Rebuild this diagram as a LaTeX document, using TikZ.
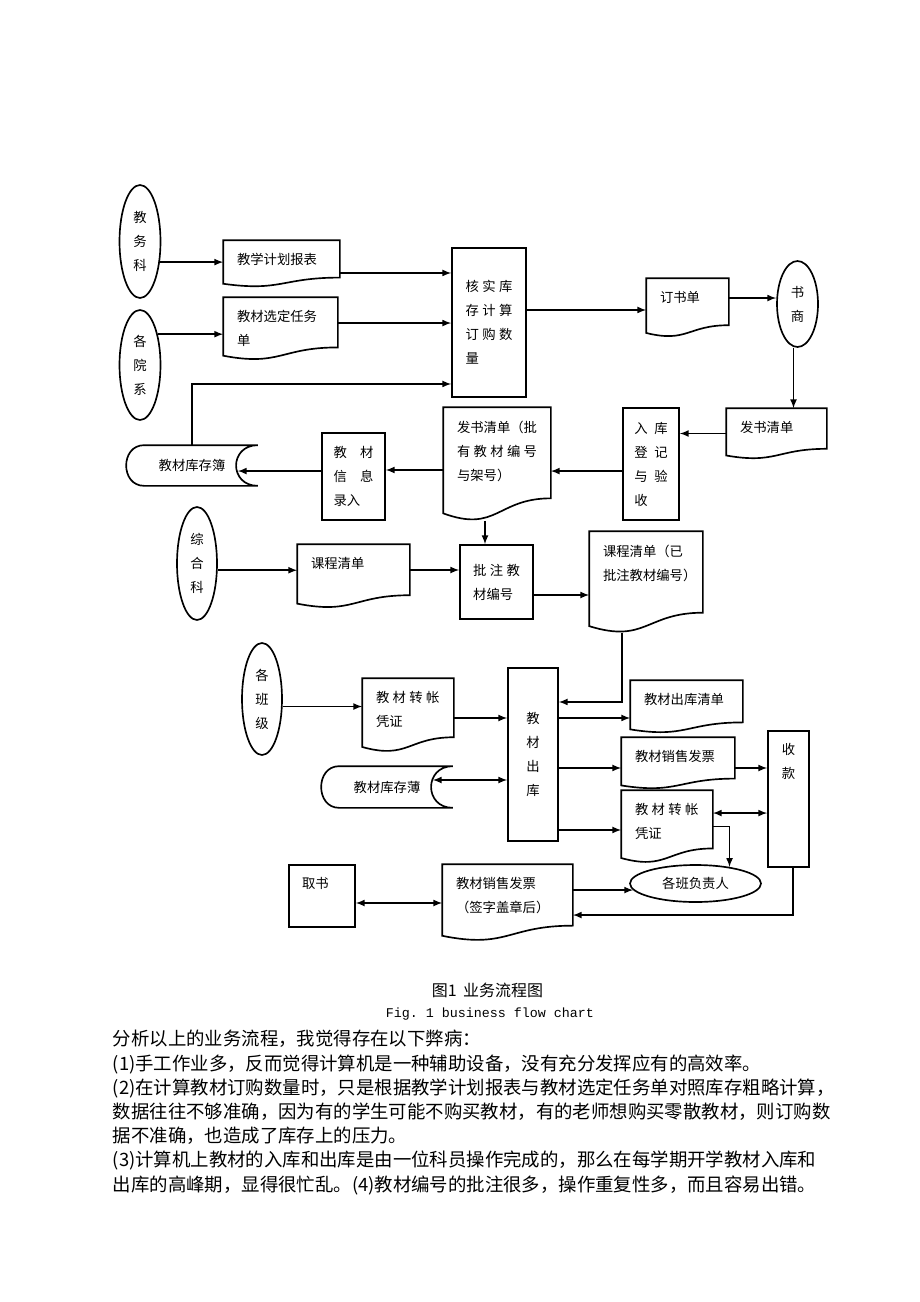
\documentclass[tikz,border=0pt]{standalone}
\usepackage{fontspec}
\setmainfont{Noto Sans CJK SC}
\newfontfamily\figlatin{Liberation Mono}
\usepackage{tikz}
\usetikzlibrary{arrows,shapes,calc}
\newdimen\pxu \pxu=0.75pt
\newdimen\inxsep \inxsep=9.75pt
\newdimen\inysep \inysep=9.5pt
\newcommand{\flowfont}{\fontsize{10pt}{18pt}\selectfont}
\newcommand{\gap}{\kern0.25em}
\newcommand{\doctext}[3]{\parbox[t][\dimexpr#2\pxu-2\inysep\relax][t]{\dimexpr#1\pxu-2\inxsep\relax}{#3}}
\newcommand{\docedge}[1]{\draw (#1.north west) -- (#1.north east) -- ($(#1.south east)!0.198!(#1.north east)$) .. controls ($(#1.south)!0.198!(#1.north)$) and ($(#1.south)!-0.1075!(#1.north)$) .. ($(#1.south west)!0.066!(#1.north west)$) -- cycle ;}
\newcommand{\storeedge}[1]{\draw ($(#1.north west)+(18,0)$) -- (#1.north east) .. controls ($(#1.north east)+(-29,0)$) and ($(#1.south east)+(-29,0)$) .. (#1.south east) -- ($(#1.south west)+(18,0)$) .. controls ($(#1.south west)+(-6,0)$) and ($(#1.north west)+(-6,0)$) .. ($(#1.north west)+(18,0)$) -- cycle ;}
\tikzset{
  dept/.style 2 args={ellipse, draw, inner sep=0pt, align=center, minimum width=#1*0.75pt, minimum height=#2*0.75pt},
  proc/.style 2 args={rectangle, draw, inner sep=0pt, align=left, minimum width=#1*0.75pt, minimum height=#2*0.75pt},
  store/.style 2 args={rectangle, inner sep=0pt, minimum width=#1*0.75pt, minimum height=#2*0.75pt},
  doc/.style={rectangle, inner xsep=\inxsep, inner ysep=\inysep}
}

\begin{document}
\begin{tikzpicture}[x=0.75pt, y=-0.75pt, line width=1.25pt, every node/.style={font=\flowfont}]
\useasboundingbox (0,0) rectangle (920,1302) ;
\draw (140,241.5) node[dept={41}{113}](jwk) {教\\务\\科} ;
\draw (140,365) node[dept={41}{110}](gyx) {各\\院\\系} ;
\draw (281.5,263.5) node[doc](plan) {\doctext{115}{45}{教学计划报表}} ;
\docedge{plan}
\draw (280.5,328.5) node[doc](choose) {\doctext{113}{61}{教材选定任务\\单}} ;
\docedge{choose}
\draw (489,322.5) node[proc={74}{149}](check) {核\gap{}实\gap{}库\\存\gap{}计\gap{}算\\订\gap{}购\gap{}数\\量} ;
\draw (687.5,307.5) node[doc](order) {\doctext{81}{57}{订书单}} ;
\docedge{order}
\draw (797.5,304) node[dept={41}{86}](seller) {书\\商} ;
\draw (776.5,433.5) node[doc](list) {\doctext{99}{49}{发书清单}} ;
\docedge{list}
\draw (651,464) node[proc={56}{112}](instock) {入\gap\gap{}库\\登\gap\gap{}记\\与\gap\gap{}验\\收} ;
\draw (497,464) node[doc](listno) {\doctext{106}{112}{发书清单（批\\有\gap{}教\gap{}材\gap{}编\gap{}号\\与架号）}} ;
\docedge{listno}
\draw (353.5,476.5) node[proc={63}{87}](entry) {教\quad{}材\\信\quad{}息\\录入} ;
\draw (192,465.5) node[store={130}{39}](stockbook) {教材库存簿} ;
\storeedge{stockbook}
\coordinate (stockbook-in) at ([xshift=-15pt]stockbook.east) ;
\draw (197,563.5) node[dept={40}{113}](zhk) {综\\合\\科} ;
\draw (353.5,576) node[doc](course) {\doctext{111}{62}{课程清单}} ;
\docedge{course}
\draw (496.5,582) node[proc={73}{74}](mark) {批\gap{}注\gap{}教\\材编号} ;
\draw (646,582) node[doc](coursemk) {\doctext{112}{100}{课程清单（已\\批注教材编号）}} ;
\docedge{coursemk}
\draw (262,699) node[dept={40}{112}](bjj) {各\\班\\级} ;
\draw (408,715) node[doc](voucher) {\doctext{90}{72}{教\gap{}材\gap{}转\gap{}帐\\凭证}} ;
\docedge{voucher}
\draw (533,754.5) node[proc={50}{173}](outstock) {教\\材\\出\\库} ;
\draw (387,787) node[store={130}{40}](stockbook2) {教材库存薄} ;
\storeedge{stockbook2}
\coordinate (stockbook2-in) at ([xshift=-15pt]stockbook2.east) ;
\draw (686.5,706.5) node[doc](outlist) {\doctext{111}{51}{教材出库清单}} ;
\docedge{outlist}
\draw (678,763) node[doc](invoice) {\doctext{112}{50}{教材销售发票}} ;
\docedge{invoice}
\draw (667,826.5) node[doc](voucher2) {\doctext{90}{71}{教\gap{}材\gap{}转\gap{}帐\\凭证}} ;
\docedge{voucher2}
\draw (788.5,799) node[doc, draw](pay) {\doctext{41}{136}{\centering 收\\款}} ;
\draw (695.5,883.5) node[dept={131}{37}](monitor) {各班负责人} ;
\draw (322,896) node[doc, draw](fetch) {\doctext{66}{62}{取书}} ;
\draw (507.5,902.5) node[doc](signed) {\doctext{129}{75}{教材销售发票\\（签字盖章后）}} ;
\docedge{signed}
\draw[-latex] (jwk.-46) -- (jwk.-46 -| plan.west) ;
\draw[-latex] (gyx.60) -- (gyx.60 -| choose.west) ;
\draw[-latex] ([yshift=-7.1pt]plan.east) -- ([yshift=-7.1pt]plan.east -| check.west) ;
\draw[-latex] ([yshift=4.1pt]choose.east) -- ([yshift=4.1pt]choose.east -| check.west) ;
\draw[-latex] (stockbook.north) |- ([yshift=-46.1pt]check.west) ;
\draw[-latex] ([yshift=9.4pt]check.east) -- ([yshift=9.4pt]check.east -| order.west) ;
\draw[-latex] ([yshift=7.1pt]order.east) -- ([yshift=7.1pt]order.east -| seller.west) ;
\draw[-latex] ([xshift=-3pt]seller.south) -- ([xshift=-3pt]seller.south |- list.north) ;
\draw[-latex] (list.west) -- (list.west -| instock.east) ;
\draw[-latex] ([yshift=-5.3pt]instock.west) -- ([yshift=-5.3pt]instock.west -| listno.east) ;
\draw[-latex] ([yshift=-4.5pt]listno.west) -- ([yshift=-4.5pt]listno.west -| entry.east) ;
\draw[-latex] ([yshift=4.1pt]entry.west) -- ([yshift=4.1pt]entry.west -| stockbook-in) ;
\draw[-latex] ([xshift=-9pt]listno.south) -- ([xshift=-9pt]listno.south |- mark.north) ;
\draw[-latex] (zhk.-18) -- (zhk.-18 -| course.west) ;
\draw[-latex] ([yshift=4.5pt]course.east) -- ([yshift=4.5pt]course.east -| mark.west) ;
\draw[-latex] ([yshift=-9.75pt]mark.east) -- ([yshift=-9.75pt]mark.east -| coursemk.west) ;
\draw[-latex] ([xshift=-18pt]coursemk.south) |- ([yshift=39.4pt]outstock.east) ;
\draw[-latex] (bjj.-20) -- (bjj.-20 -| voucher.west) ;
\draw[-latex] ([yshift=-2.25pt]voucher.east) -- ([yshift=-2.25pt]voucher.east -| outstock.west) ;
\draw[latex-latex] ([yshift=5.25pt]stockbook2-in) -- ([yshift=5.25pt]stockbook2-in -| outstock.west) ;
\draw[-latex] ([yshift=27.4pt]outstock.east) -- ([yshift=27.4pt]outstock.east -| outlist.west) ;
\draw[-latex] ([yshift=-10.1pt]outstock.east) -- ([yshift=-10.1pt]outstock.east -| invoice.west) ;
\draw[-latex] ([yshift=-56.6pt]outstock.east) -- ([yshift=-56.6pt]outstock.east -| voucher2.west) ;
\draw[-latex] ([yshift=-3.75pt]invoice.east) -- ([yshift=-3.75pt]invoice.east -| pay.west) ;
\draw[latex-latex] ([yshift=10.1pt]voucher2.east) -- ([yshift=10.1pt]voucher2.east -| pay.west) ;
\draw[-latex] (voucher2.east) -| (monitor.26) ;
\draw[-latex] ([yshift=9.4pt]signed.east) -- (monitor.186) ;
\draw[-latex] ([xshift=3.4pt]pay.south) |- ([yshift=-9.4pt]signed.east) ;
\draw[latex-latex] ([yshift=-5.25pt]fetch.east) -- ([yshift=-5.25pt]fetch.east -| signed.west) ;
\draw (487.5,990) node[font=\fontsize{12pt}{14pt}\selectfont](title) {图1\hspace{0.4em}业务流程图} ;
\draw (490,1014) node[font=\figlatin\fontsize{10pt}{12pt}\selectfont](entitle) {Fig.\ 1 business flow chart} ;
\draw (112,1029.5) node[anchor=north west, inner sep=0pt, align=left, font=\fontsize{13.8pt}{18.15pt}\selectfont](analysis) {分析以上的业务流程，我觉得存在以下弊病：\\(1)手工作业多，反而觉得计算机是一种辅助设备，没有充分发挥应有的高效率。\\(2)在计算教材订购数量时，只是根据教学计划报表与教材选定任务单对照库存粗略计算，\\数据往往不够准确，因为有的学生可能不购买教材，有的老师想购买零散教材，则订购数\\据不准确，也造成了库存上的压力。\\(3)计算机上教材的入库和出库是由一位科员操作完成的，那么在每学期开学教材入库和\\出库的高峰期，显得很忙乱。(4)教材编号的批注很多，操作重复性多，而且容易出错。} ;
\end{tikzpicture}
\end{document}
